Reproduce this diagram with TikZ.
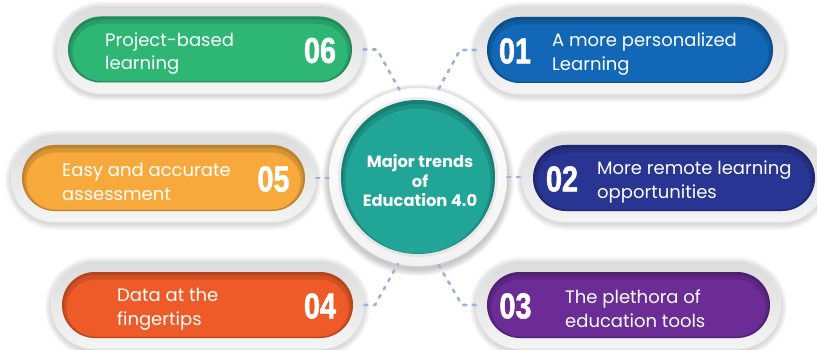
\documentclass[tikz,border=0pt]{standalone}
\usepackage{fontspec}
\setmainfont{Poppins}
\newfontfamily\numfont[FakeStretch=0.8,FakeBold=1.4]{Liberation Sans}
\usetikzlibrary{shapes.misc}

\definecolor{c06}{HTML}{2DB674}
\definecolor{c01}{HTML}{1268B7}
\definecolor{c05}{HTML}{F7A93C}
\definecolor{c02}{HTML}{283593}
\definecolor{c04}{HTML}{EE5A28}
\definecolor{c03}{HTML}{6B2C96}
\definecolor{hubteal}{HTML}{20A596}
\definecolor{dashc}{HTML}{9DB2DA}

\tikzset{
  ring/.style={rounded rectangle, inner sep=0pt, minimum height=88pt,
    top color=black!14, bottom color=black!4, draw=black!7, line width=0.6pt},
  pill/.style={rounded rectangle, inner sep=0pt, minimum height=66pt, fill=#1},
  halo/.style={rounded rectangle, inner sep=0pt, fill=black, opacity=0.025},
  pilltext/.style={anchor=west, text=white, align=left, inner sep=0pt,
    font=\fontsize{18}{23.8}\selectfont},
  numtext/.style={text=white, inner sep=0pt,
    font=\numfont\bfseries\fontsize{36}{36}\selectfont},
  link/.style={draw=dashc, line width=2.6pt, dash pattern=on 3pt off 6.5pt,
    line cap=round, line join=round},
}

\begin{document}
\begin{tikzpicture}[x=1pt,y=-1pt]
\useasboundingbox[fill=white] (0,0) rectangle (817,350);

% the six trend pills: outer ring, coloured pill, number and caption
\foreach \nm/\cx/\cy/\w/\col/\nx/\tx/\txt in {
  06/210/49.5/284/c06/320/105/{Project-based\\learning},
  01/630/50/286/c01/515/552/{A more personalized\\Learning},
  05/163.5/178/283/c05/273.5/62/{Easy and accurate\\assessment},
  02/674/178/282/c02/562/597/{More remote learning\\opportunities},
  04/207.5/305/291/c04/320/117/{Data at the\\fingertips},
  03/628.5/305/283/c03/515.5/565/{The plethora of\\education tools}} {
  \foreach \k in {1,...,6}
    \node[halo, minimum width=\w pt+22pt+2*\k pt, minimum height=88pt+2*\k pt]
      (h\nm\k) at (\cx,\cy+2) {};
  \node[ring, minimum width=\w pt+22pt] (p\nm) at (\cx,\cy) {};
  \node[pill=\col, minimum width=\w pt] (f\nm) at (\cx,\cy) {};
  \begin{scope}
    \clip[rounded corners=32.9pt] (\cx-\w/2,\cy-33) rectangle (\cx+\w/2,\cy+33);
    \draw[black, opacity=0.12, line width=9pt, rounded corners=33pt]
      (\cx-\w/2,\cy-30) rectangle (\cx+\w/2,\cy+36);
    \draw[black, opacity=0.12, line width=4pt, rounded corners=33pt]
      (\cx-\w/2,\cy-32) rectangle (\cx+\w/2,\cy+34);
  \end{scope}
  \node[numtext] (n\nm) at (\nx,\cy+1) {\nm};
  \node[pilltext] (t\nm) at (\tx,\cy+4) {\txt};
}

% central hub
\foreach \k in {1,...,7}
  \node[circle, fill=black, opacity=0.03, inner sep=0pt, minimum size=178pt+2*\k pt]
    (hs\k) at (418,180) {};
\node[circle, inner sep=0pt, minimum size=178pt, top color=white,
  bottom color=black!5, draw=black!6, line width=0.6pt] (hub) at (418,177) {};
\node[circle, inner sep=0pt, minimum size=160pt, fill=black, opacity=0.06]
  (hubrim) at (418,177) {};
\node[circle, inner sep=0pt, minimum size=154pt, fill=hubteal] (core) at (418,177) {};
\begin{scope}
  \clip (418,177) circle (77);
  \draw[black, opacity=0.12, line width=9pt] (418,181) circle (77);
  \draw[black, opacity=0.12, line width=4pt] (418,179) circle (77);
\end{scope}
\node[text=white, align=center, inner sep=0pt,
  font=\bfseries\fontsize{16.3}{19.5}\selectfont] (title) at (420,181)
  {Major trends\\of\\Education 4.0};

% dashed connectors from the hub to each pill
\coordinate (k06) at (377,49.5);
\coordinate (k01) at (460,50);
\coordinate (k04) at (375,305);
\coordinate (k03) at (462,305);
\draw[link] (p06.east) -- (k06) -- (hub.102);
\draw[link] (p01.west) -- (k01) -- (hub.77);
\draw[link] (p04.east) -- (k04) -- (hub.257);
\draw[link] (p03.west) -- (k03) -- (hub.283);
\draw[link] (p05.east) -- (p05.east -| hub.west);
\draw[link] (hub.east) -- (hub.east -| p02.west);
\end{tikzpicture}
\end{document}
